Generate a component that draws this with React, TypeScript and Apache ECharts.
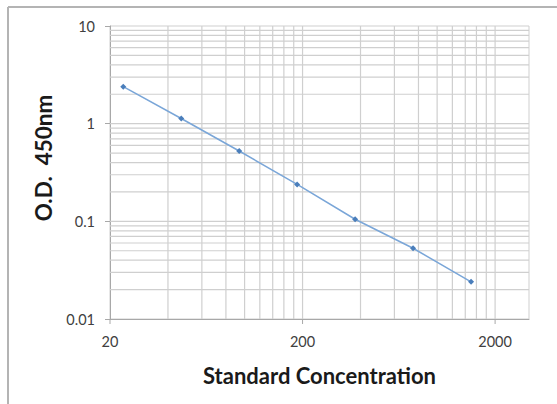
import React, { useEffect, useRef } from "react";
import * as echarts from "echarts";

const concentrations = [23.44, 46.88, 93.75, 187.5, 375, 750, 1500];
const odValues = [2.39, 1.13, 0.525, 0.239, 0.105, 0.053, 0.024];
const xTickValues = [20, 200, 2000];
const xTickLabels = ["20", "200", "2000"];
const xGridValues = [40, 60, 80, 100, 120, 140, 160, 180, 200, 400, 600, 800, 1000, 1200, 1400, 1600, 1800, 2000];
const yGridValues = [
  0.02, 0.03, 0.04, 0.05, 0.06, 0.07, 0.08, 0.09, 0.1,
  0.2, 0.3, 0.4, 0.5, 0.6, 0.7, 0.8, 0.9, 1,
  2, 3, 4, 5, 6, 7, 8, 9,
];
const xTitle = "Standard Concentration";
const yTitle = "O.D.  450nm";

const FONT = "Lato, 'Open Sans', sans-serif";
const GRID_COLOR = "#cfcfcf";
const AXIS_COLOR = "#a8a8a8";

export default function App() {
  const ref = useRef<HTMLDivElement>(null);
  useEffect(() => {
    if (!ref.current) return;
    const chart = echarts.init(ref.current, undefined, { renderer: "svg" });
    chart.setOption({
      animation: false,
      backgroundColor: "#ffffff",
      grid: {
        left: 110,
        top: 26,
        right: 28,
        bottom: 85,
        show: true,
        borderColor: GRID_COLOR,
        borderWidth: 1,
      },
      xAxis: {
        type: "log",
        logBase: 10,
        min: 20,
        max: 3000,
        axisLine: { show: true, lineStyle: { color: AXIS_COLOR, width: 1 } },
        axisTick: { show: false },
        axisLabel: { show: false },
        splitLine: { show: false },
        name: xTitle,
        nameLocation: "middle",
        nameGap: 45,
        nameTextStyle: { fontFamily: FONT, fontWeight: "bold", fontSize: 22, color: "#1a1a1a" },
      },
      yAxis: {
        type: "log",
        logBase: 10,
        min: 0.01,
        max: 10,
        axisLine: { show: true, lineStyle: { color: AXIS_COLOR, width: 1 } },
        axisTick: { show: true, length: 5, lineStyle: { color: AXIS_COLOR } },
        axisLabel: { margin: 15, fontFamily: FONT, fontSize: 14.5, color: "#404040" },
        splitLine: { show: false },
      },
      graphic: [
        { type: "line", shape: { x1: 8, y1: 7, x2: 557, y2: 7 }, style: { stroke: "#b4b4b4", lineWidth: 2 } },
        { type: "line", shape: { x1: 8, y1: 7, x2: 8, y2: 404 }, style: { stroke: "#b4b4b4", lineWidth: 2 } },
        {
          type: "text",
          x: 43,
          y: 158,
          rotation: Math.PI / 2,
          style: {
            text: yTitle,
            fontFamily: FONT,
            fontWeight: "bold",
            fontSize: 22.5,
            fill: "#1a1a1a",
            align: "center",
            verticalAlign: "middle",
          },
        },
      ],
      series: [
        {
          type: "custom",
          name: "vgrid",
          z: 1,
          silent: true,
          data: xGridValues.map((v) => [v, 1]),
          renderItem: (params: any, api: any) => {
            const x = api.coord([api.value(0), 1])[0];
            const cs = params.coordSys;
            return {
              type: "line",
              shape: { x1: x, y1: cs.y, x2: x, y2: cs.y + cs.height },
              style: { stroke: GRID_COLOR, lineWidth: 1.2 },
            };
          },
        },
        {
          type: "custom",
          name: "hgrid",
          z: 1,
          silent: true,
          data: yGridValues.map((v) => [100, v]),
          renderItem: (params: any, api: any) => {
            const y = api.coord([100, api.value(1)])[1];
            const cs = params.coordSys;
            return {
              type: "line",
              shape: { x1: cs.x, y1: y, x2: cs.x + cs.width, y2: y },
              style: { stroke: GRID_COLOR, lineWidth: 1.2 },
            };
          },
        },
        {
          type: "custom",
          name: "xticks",
          z: 3,
          silent: true,
          clip: false,
          data: xTickValues.map((v) => [v, 0.01]),
          renderItem: (params: any, api: any) => {
            const p = api.coord([api.value(0), 0.01]);
            return {
              type: "group",
              children: [
                {
                  type: "line",
                  shape: { x1: p[0], y1: p[1], x2: p[0], y2: p[1] + 5 },
                  style: { stroke: AXIS_COLOR, lineWidth: 1 },
                },
                {
                  type: "text",
                  x: p[0],
                  y: p[1] + 22,
                  style: {
                    text: xTickLabels[params.dataIndex],
                    fontFamily: FONT,
                    fontSize: 14.5,
                    fill: "#404040",
                    align: "center",
                    verticalAlign: "middle",
                  },
                },
              ],
            };
          },
        },
        {
          type: "line",
          name: "OD",
          z: 5,
          data: concentrations.map((c, i) => [c, odValues[i]]),
          symbol: "diamond",
          symbolSize: 6,
          itemStyle: { color: "#4a7ebb" },
          lineStyle: { color: "#7aa6d8", width: 1.5 },
        },
      ],
    });
    return () => chart.dispose();
  }, []);
  return (
    <div
      ref={ref}
      style={{ position: "fixed", left: 0, top: 0, width: 557, height: 404, background: "#fff" }}
    />
  );
}
